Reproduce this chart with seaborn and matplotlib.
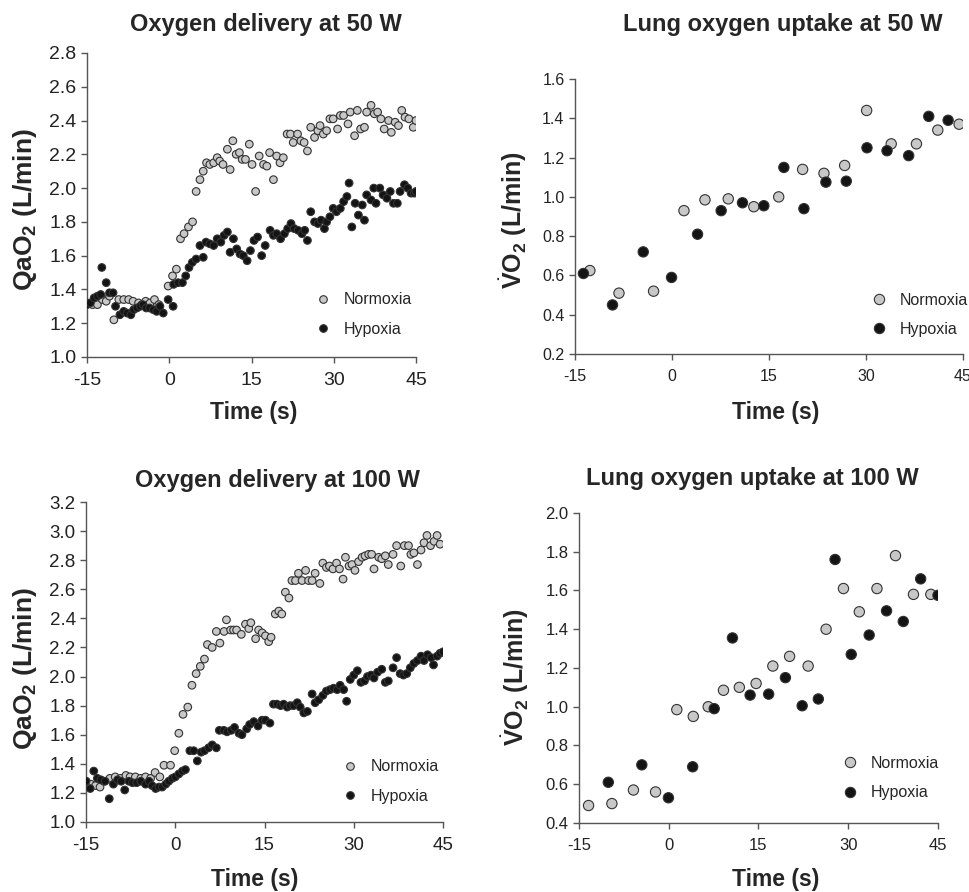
import numpy as np
import pandas as pd
import seaborn as sns
import matplotlib
matplotlib.use('Agg')
from matplotlib import pyplot as plt

# --- data ---
# oxygen delivery at 50 W (QaO2, L/min)
t_do50_n = [-15, -14.0, -13.1, -12.2, -11.5, -10.9, -10.1, -9.2, -8.3, -7.4, -6.6, -5.6, -5.0, -4.3, -3.5, -2.7, -1.9,
            -0.2, 0.6, 1.3, 2.05, 2.7, 3.5, 4.25, 4.9, 5.6, 6.2, 6.8, 7.4, 8.1, 8.75, 9.2, 9.8, 10.6, 11.1, 11.6,
            12.2, 12.8, 13.3, 13.9, 14.6, 15.1, 15.75, 16.4, 17.2, 17.8, 18.3, 19.0, 19.6, 20.2, 20.8, 21.5, 22.1,
            22.6, 23.4, 24.0, 24.6, 25.2, 25.8, 26.5, 27.1, 27.5, 28.1, 28.7, 29.3, 29.9, 30.7, 31.2, 31.8, 32.6,
            33.0, 33.8, 34.3, 34.9, 35.6, 36.0, 36.8, 37.4, 38.0, 38.6, 39.2, 40.0, 40.5, 41.2, 41.8, 42.4, 43.0,
            43.7, 44.5, 45.0]
q_do50_n = [1.32, 1.31, 1.31, 1.34, 1.33, 1.36, 1.22, 1.34, 1.34, 1.34, 1.33, 1.32, 1.31, 1.33, 1.32, 1.34, 1.31,
            1.42, 1.48, 1.52, 1.70, 1.73, 1.77, 1.80, 1.98, 2.05, 2.10, 2.15, 2.14, 2.15, 2.18, 2.16, 2.14, 2.23,
            2.11, 2.28, 2.20, 2.21, 2.17, 2.17, 2.26, 2.14, 1.98, 2.19, 2.14, 2.13, 2.21, 2.05, 2.19, 2.15, 2.18,
            2.32, 2.32, 2.27, 2.32, 2.28, 2.27, 2.22, 2.36, 2.30, 2.34, 2.37, 2.32, 2.34, 2.41, 2.41, 2.35, 2.43,
            2.43, 2.38, 2.45, 2.31, 2.46, 2.35, 2.36, 2.45, 2.49, 2.44, 2.45, 2.41, 2.35, 2.40, 2.33, 2.39, 2.37,
            2.46, 2.42, 2.41, 2.36, 2.40]
t_do50_h = [-15, -14.4, -13.7, -13.1, -12.5, -12.3, -11.5, -10.9, -10.25, -9.8, -9.0, -8.3, -7.7, -7.0, -6.5, -5.9,
            -5.3, -4.8, -4.2, -3.6, -2.9, -2.3, -1.7, -1.1, -0.2, 0.7, 0.8, 1.6, 2.4, 3.0, 3.6, 4.2, 4.9, 5.6, 6.2,
            6.7, 7.4, 8.1, 8.75, 9.4, 10.0, 10.6, 11.1, 11.7, 12.3, 12.9, 13.5, 14.2, 14.8, 15.45, 16.1, 16.85,
            17.5, 18.4, 19.0, 19.6, 20.3, 21.0, 21.6, 22.2, 22.8, 23.5, 24.2, 24.7, 25.2, 25.8, 26.5, 27.1, 27.7,
            28.3, 28.7, 29.3, 29.9, 30.5, 31.2, 31.8, 32.4, 32.8, 33.3, 33.9, 34.5, 35.2, 35.6, 36.0, 36.8, 37.3,
            37.7, 38.4, 39.0, 39.7, 40.3, 40.9, 41.6, 42.1, 42.9, 43.5, 44.1, 44.7, 45.0]
q_do50_h = [1.31, 1.32, 1.35, 1.36, 1.37, 1.53, 1.44, 1.38, 1.38, 1.30, 1.25, 1.27, 1.26, 1.25, 1.28, 1.29,
            1.30, 1.31, 1.29, 1.29, 1.28, 1.27, 1.30, 1.26, 1.34, 1.30, 1.43, 1.44, 1.44, 1.48, 1.53, 1.56, 1.58,
            1.66, 1.59, 1.68, 1.67, 1.66, 1.70, 1.68, 1.72, 1.74, 1.62, 1.70, 1.64, 1.61, 1.60, 1.57, 1.63, 1.69,
            1.71, 1.60, 1.66, 1.75, 1.72, 1.73, 1.70, 1.73, 1.76, 1.79, 1.76, 1.75, 1.73, 1.75, 1.69, 1.86, 1.80,
            1.79, 1.81, 1.76, 1.80, 1.83, 1.88, 1.86, 1.88, 1.92, 1.95, 2.03, 1.77, 1.91, 1.84, 1.90, 1.81, 1.96,
            1.93, 2.00, 1.91, 2.00, 1.96, 1.94, 1.98, 1.91, 1.91, 1.98, 2.02, 2.00, 1.97, 1.97, 1.98]

# lung oxygen uptake at 50 W (VO2, L/min)
t_vo50_n = [-12.7, -8.2, -2.85, 1.85, 5.1, 8.7, 12.65, 16.5, 20.2, 23.5, 26.7, 30.1, 33.9, 37.8, 41.1, 44.4]
v_vo50_n = [0.625, 0.51, 0.52, 0.93, 0.985, 0.99, 0.95, 1.0, 1.14, 1.12, 1.16, 1.44, 1.27, 1.27, 1.34, 1.37]
t_vo50_h = [-13.7, -9.2, -4.45, -0.07, 3.95, 7.6, 10.9, 14.2, 17.3, 20.4, 23.8, 26.95, 30.15, 33.25, 36.6, 39.7, 42.7]
v_vo50_h = [0.61, 0.45, 0.72, 0.59, 0.81, 0.93, 0.97, 0.955, 1.15, 0.94, 1.075, 1.08, 1.25, 1.235, 1.21, 1.41, 1.39]

# oxygen delivery at 100 W
t_do100_n = [-15, -14.2, -13.4, -12.65, -12.0, -11.0, -10.1, -9.2, -8.3, -7.6, -6.7, -5.8, -5.0, -4.15, -3.4, -2.6,
             -1.9, -0.8, -0.1, 0.6, 1.3, 2.1, 2.8, 3.5, 4.2, 4.9, 5.4, 6.2, 6.9, 7.5, 8.2, 8.6, 9.3, 9.8, 10.3,
             11.1, 11.8, 12.35, 12.7, 13.5, 14.0, 14.6, 15.15, 15.7, 16.1, 16.8, 17.4, 17.9, 18.5, 19.1, 19.6,
             20.2, 20.7, 21.3, 21.9, 22.4, 23.0, 23.5, 24.3, 24.8, 25.4, 25.9, 26.5, 27.1, 27.6, 28.2, 28.6, 29.2,
             29.7, 30.2, 30.8, 31.4, 31.9, 32.5, 33.0, 33.4, 34.2, 34.7, 35.3, 35.8, 36.6, 37.2, 37.9, 38.5, 39.2,
             39.6, 40.1, 40.7, 41.3, 41.8, 42.3, 42.9, 43.5, 44.0, 44.5]
q_do100_n = [1.28, 1.26, 1.25, 1.24, 1.28, 1.30, 1.31, 1.30, 1.32, 1.31, 1.31, 1.30, 1.31, 1.30, 1.34, 1.31,
             1.39, 1.39, 1.49, 1.61, 1.74, 1.79, 1.94, 2.02, 2.07, 2.12, 2.22, 2.20, 2.31, 2.23, 2.31, 2.39, 2.32,
             2.32, 2.32, 2.29, 2.36, 2.33, 2.37, 2.26, 2.32, 2.30, 2.28, 2.24, 2.27, 2.43, 2.45, 2.43, 2.58, 2.54,
             2.66, 2.66, 2.71, 2.66, 2.73, 2.66, 2.66, 2.71, 2.64, 2.78, 2.75, 2.76, 2.74, 2.78, 2.74, 2.67, 2.82,
             2.76, 2.77, 2.73, 2.79, 2.82, 2.83, 2.84, 2.84, 2.74, 2.82, 2.81, 2.83, 2.77, 2.84, 2.90, 2.76, 2.90,
             2.90, 2.84, 2.85, 2.77, 2.87, 2.92, 2.97, 2.90, 2.93, 2.97, 2.91]
t_do100_h = [-15, -14.3, -13.7, -13.1, -12.5, -11.8, -11.1, -10.4, -9.7, -9.1, -8.5, -7.8, -7.2, -6.5, -5.8, -5.0,
             -4.4, -3.9, -3.3, -2.75, -2.2, -1.6, -1.1, -0.5, 0.0, 0.6, 1.2, 1.7, 2.45, 3.1, 3.7, 4.35, 4.9, 5.6,
             6.2, 6.9, 7.4, 8.15, 8.7, 9.4, 9.95, 10.7, 11.2, 12.0, 12.5, 13.2, 13.9, 14.6, 15.15, 15.9, 16.5, 17.1,
             17.7, 18.2, 18.8, 19.3, 19.9, 20.5, 21.0, 21.6, 22.2, 23.0, 23.5, 24.1, 24.8, 25.4, 26.0, 26.6, 27.2,
             27.7, 28.3, 28.8, 29.4, 30.0, 30.6, 31.2, 31.8, 32.3, 32.9, 33.4, 34.0, 34.7, 35.3, 35.8, 36.6, 37.2,
             37.8, 38.35, 38.9, 39.5, 40.1, 40.7, 41.3, 41.8, 42.4, 43.0, 43.4, 44.0, 44.5, 45.0]
q_do100_h = [1.28, 1.23, 1.35, 1.30, 1.29, 1.28, 1.16, 1.26, 1.29, 1.28, 1.22, 1.28, 1.27, 1.27, 1.28, 1.26,
             1.28, 1.25, 1.23, 1.24, 1.24, 1.26, 1.28, 1.30, 1.31, 1.33, 1.35, 1.36, 1.49, 1.49, 1.42, 1.48, 1.49,
             1.51, 1.53, 1.51, 1.63, 1.63, 1.62, 1.63, 1.65, 1.61, 1.60, 1.64, 1.67, 1.69, 1.66, 1.70, 1.70, 1.68,
             1.81, 1.81, 1.80, 1.81, 1.79, 1.80, 1.80, 1.82, 1.79, 1.75, 1.76, 1.88, 1.82, 1.84, 1.87, 1.90, 1.91,
             1.92, 1.91, 1.94, 1.91, 1.83, 1.98, 2.01, 2.04, 1.96, 1.97, 2.00, 2.01, 1.99, 2.03, 2.05, 1.96, 1.97,
             2.06, 2.13, 2.02, 2.01, 2.02, 2.06, 2.09, 2.11, 2.14, 2.11, 2.15, 2.13, 2.08, 2.14, 2.16, 2.17]

# lung oxygen uptake at 100 W
t_vo100_n = [-13.4, -9.5, -5.9, -2.2, 1.35, 4.1, 6.6, 9.15, 11.8, 14.6, 17.4, 20.2, 23.3, 26.3, 29.2, 31.85, 34.8,
             37.9, 40.9, 43.8]
v_vo100_n = [0.49, 0.50, 0.57, 0.56, 0.985, 0.95, 1.0, 1.085, 1.10, 1.12, 1.21, 1.26, 1.21, 1.40, 1.61, 1.49, 1.61,
             1.78, 1.58, 1.58]
t_vo100_h = [-10.1, -4.5, -0.05, 4.0, 7.6, 10.65, 13.6, 16.7, 19.5, 22.3, 25.0, 27.8, 30.5, 33.5, 36.4, 39.2, 42.1, 45.0]
v_vo100_h = [0.61, 0.70, 0.53, 0.69, 0.99, 1.355, 1.06, 1.065, 1.15, 1.005, 1.04, 1.76, 1.27, 1.37, 1.495, 1.44,
             1.66, 1.575]

conditions = ['Normoxia', 'Hypoxia']
colors = {'Normoxia': '#c8c8c8', 'Hypoxia': '#141414'}


def make_df(tn, yn, th, yh):
    a = pd.DataFrame({'t': tn, 'y': yn, 'cond': 'Normoxia'})
    b = pd.DataFrame({'t': th, 'y': yh, 'cond': 'Hypoxia'})
    return pd.concat([a, b], ignore_index=True)


sns.set_style('ticks')
plt.rcParams['font.family'] = ['Liberation Sans', 'DejaVu Sans']
plt.rcParams['mathtext.fontset'] = 'custom'
plt.rcParams['mathtext.rm'] = 'Liberation Sans'
plt.rcParams['mathtext.bf'] = 'Liberation Sans:bold'
plt.rcParams['axes.unicode_minus'] = False

fig = plt.figure(figsize=(9.69, 8.92), dpi=100)

qa_label = r'QaO$_\mathbf{2}$ (L/min)'
vo_label = r'$\dot{\mathbf{V}}$O$_\mathbf{2}$ (L/min)'

panels = [
    # rect, df, ylim, yticks, marker size, tick size, title, title pos, ylabel, ylabel pos, xlabel pos,
    # ylabel size, legend anchor
    ([0.0898, 0.5998, 0.3395, 0.3408], make_df(t_do50_n, q_do50_n, t_do50_h, q_do50_h),
     (1.0, 2.8), np.arange(1.0, 2.81, 0.2), 30, 14, 'Oxygen delivery at 50 W', (266, 25),
     qa_label, (-0.188, 0.484), (0.508, -0.181), 19, (1.033, 0.02)),
    ([0.5934, 0.6031, 0.4004, 0.3083], make_df(t_vo50_n, v_vo50_n, t_vo50_h, v_vo50_h),
     (0.2, 1.6), np.arange(0.2, 1.61, 0.2), 55, 11.5, 'Lung oxygen uptake at 50 W', (783, 25),
     vo_label, (-0.160, 0.487), (0.518, -0.211), 18, (1.05, 0.01)),
    ([0.0888, 0.0785, 0.3684, 0.3587], make_df(t_do100_n, q_do100_n, t_do100_h, q_do100_h),
     (1.0, 3.2), np.arange(1.0, 3.21, 0.2), 30, 13.5, 'Oxygen delivery at 100 W', (277, 480),
     qa_label, (-0.171, 0.48), (0.473, -0.181), 19, (1.03, 0.012)),
    ([0.5975, 0.0774, 0.3705, 0.3475], make_df(t_vo100_n, v_vo100_n, t_vo100_h, v_vo100_h),
     (0.4, 2.0), np.arange(0.4, 2.01, 0.2), 55, 12, 'Lung oxygen uptake at 100 W', (752, 478),
     vo_label, (-0.178, 0.47), (0.549, -0.184), 18, (1.042, 0.027)),
]

W, H = 969, 892
for rect, df, ylim, yticks, ms, tfs, title, tpos, ylab, ylpos, xlpos, yls, lpos in panels:
    ax = fig.add_axes(rect)
    sns.scatterplot(data=df, x='t', y='y', hue='cond', hue_order=conditions, palette=colors,
                    s=ms, edgecolor='#333333', linewidth=0.8, ax=ax, zorder=3)
    ax.set_xlim(-15, 45)
    ax.set_ylim(*ylim)
    ax.set_xticks([-15, 0, 15, 30, 45])
    ax.set_yticks(yticks)
    ax.set_yticklabels([f'{v:.1f}' for v in yticks])
    for s in ['top', 'right']:
        ax.spines[s].set_visible(False)
    for s in ['left', 'bottom']:
        ax.spines[s].set_color('#555555')
        ax.spines[s].set_linewidth(1.0)
    ax.tick_params(axis='both', direction='out', length=4, width=1.0, color='#555555',
                   labelsize=tfs, labelcolor='#222222')
    ax.tick_params(axis='x', pad=7)
    ax.set_xlabel('Time (s)', fontsize=16.5, fontweight='bold', va='center')
    ax.xaxis.set_label_coords(*xlpos)
    ax.set_ylabel(ylab, fontsize=yls, fontweight='bold', va='center')
    ax.yaxis.set_label_coords(*ylpos)
    ax.legend(loc='lower right', bbox_to_anchor=lpos, frameon=False,
              fontsize=11.5, handletextpad=0.3, labelspacing=0.9)
    fig.text(tpos[0] / W, 1 - tpos[1] / H, title, ha='center', va='center',
             fontsize=17, fontweight='bold')

fig.savefig('out.png', dpi=100)
